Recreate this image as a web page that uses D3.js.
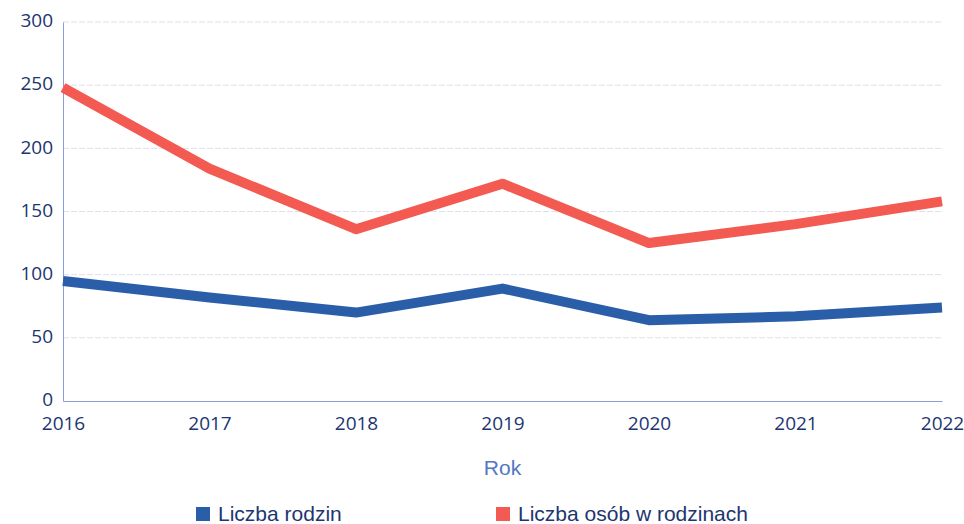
<!doctype html>
<html>
  <head>
    <meta charset="utf-8">
    <script src="https://d3js.org/d3.v7.min.js"></script>
    <style>
      body { margin: 0; background: #fff; }
      .tick text { font-family: "Open Sans", sans-serif; }
    </style>
  </head>
  <body>
    <script>
      // values
      var years    = [2016, 2017, 2018, 2019, 2020, 2021, 2022];
      var rodziny  = [95, 82, 70, 89, 64, 67, 74];
      var osoby    = [248, 184, 136, 172, 125, 140, 158];
      var yTicks   = [0, 50, 100, 150, 200, 250, 300];
      var seriesNames = ["Liczba rodzin", "Liczba osób w rodzinach"];
      var seriesColors = ["#2b5ea8", "#f25a52"];

      var width = 964, height = 524;
      var margin = {top: 22, right: 22, bottom: 123, left: 63};

      var svg = d3.select("body").append("svg")
                  .attr("width", width)
                  .attr("height", height);

      var x = d3.scalePoint()
                .domain(years)
                .range([margin.left, width - margin.right]);

      var y = d3.scaleLinear()
                .domain([0, 300])
                .range([height - margin.bottom, margin.top]);

      // gridlines
      svg.append("g")
         .selectAll("line")
         .data(yTicks.slice(1))
         .enter().append("line")
           .attr("x1", margin.left)
           .attr("x2", width - margin.right)
           .attr("y1", d => y(d))
           .attr("y2", d => y(d))
           .style("stroke", "#dde0ec")
           .style("stroke-width", 1)
           .style("stroke-dasharray", "6,2");

      // y axis
      var yAxis = svg.append("g")
         .attr("transform", "translate(" + margin.left + ",0)")
         .call(d3.axisLeft(y).tickValues(yTicks).tickSize(0).tickPadding(10));
      yAxis.select(".domain").style("stroke", "#8c9ddb");
      yAxis.selectAll("text")
           .attr("dy", "0.25em")
           .style("font-size", "19px")
           .style("fill", "#1d3570");

      // x axis
      var xAxis = svg.append("g")
         .attr("transform", "translate(0," + y(0) + ")")
         .call(d3.axisBottom(x).tickSize(0).tickPadding(16));
      xAxis.select(".domain").style("stroke", "#8c9ddb");
      xAxis.selectAll("text")
           .style("font-size", "19px")
           .style("fill", "#1d3570");

      // lines
      var line = d3.line()
                   .x((d, i) => x(years[i]))
                   .y(d => y(d));

      [rodziny, osoby].forEach(function(s, k) {
        svg.append("path")
           .datum(s)
           .attr("d", line)
           .style("fill", "none")
           .style("stroke", seriesColors[k])
           .style("stroke-width", 10)
           .style("stroke-linejoin", "round");
      });

      // axis title
      svg.append("text")
         .attr("x", x(2019))
         .attr("y", 475)
         .attr("text-anchor", "middle")
         .style("font-family", "'Liberation Sans Narrow', 'Liberation Sans', sans-serif")
         .style("font-size", "21px")
         .style("fill", "#5576c4")
         .text("Rok");

      // legend
      var legendX = [196, 496];
      var legend = svg.append("g")
         .selectAll("g")
         .data(seriesNames)
         .enter().append("g")
           .attr("transform", (d, i) => "translate(" + legendX[i] + ",507)");
      legend.append("rect")
            .attr("width", 14)
            .attr("height", 14)
            .style("fill", (d, i) => seriesColors[i]);
      legend.append("text")
            .attr("x", 22)
            .attr("y", 14)
            .style("font-family", "'Liberation Sans Narrow', 'Liberation Sans', sans-serif")
            .style("font-size", "21px")
            .style("fill", "#1d3570")
            .text(d => d);
    </script>
  </body>
</html>
